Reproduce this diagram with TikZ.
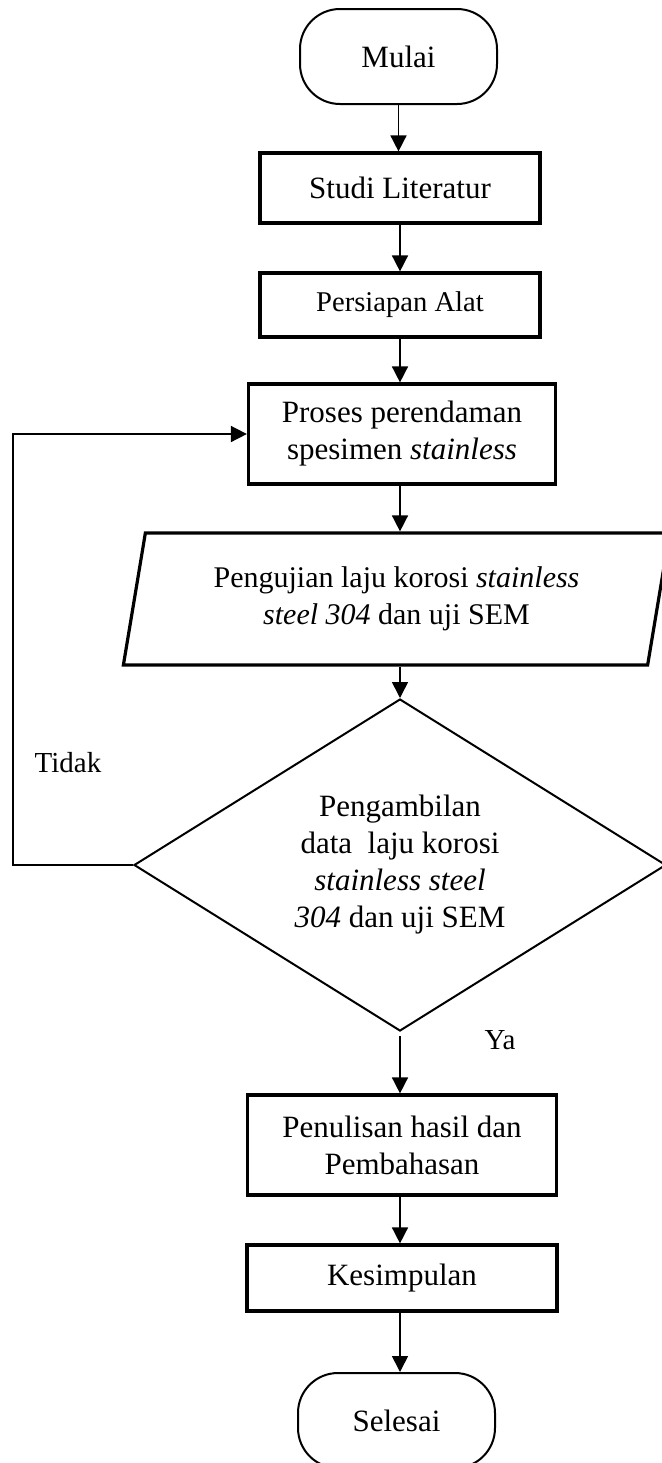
\documentclass[tikz,border=0pt]{standalone}
\usepackage{fontspec}
\setmainfont{Liberation Serif}
\usetikzlibrary{shapes.geometric, arrows.meta}

\begin{document}
\begin{tikzpicture}[x=0.5pt, y=-0.5pt, >={Triangle[length=8pt,width=8pt]},
  txt/.style={font=\fontsize{15.5}{18.5}\selectfont, align=center, inner sep=0pt},
  terminal/.style={txt, draw, line width=1pt, rounded corners=20pt, minimum width=98.5pt, minimum height=47.5pt},
  box/.style={txt, draw, line width=1.6pt},
  io/.style={txt, draw, line width=1.6pt, trapezium, trapezium left angle=76, trapezium right angle=104, trapezium stretches=true},
  decision/.style={txt, draw, line width=1pt, diamond, aspect=1.6},
  lbl/.style={font=\fontsize{14.5}{17}\selectfont, inner sep=0pt}]
\useasboundingbox (0,0) rectangle (661,1463);
\node (mulai) at (398.5,56.5) [terminal] {Mulai};
\node (studi) at (400,188) [box, minimum width=140pt, minimum height=35pt] {Studi Literatur};
\node (persiapan) at (400,305) [box, minimum width=140pt, minimum height=32pt, font=\fontsize{14.3}{17}\selectfont] {Persiapan Alat};
\node (proses) at (402,434) [box, minimum width=153.5pt, minimum height=50pt] {Proses perendaman\\spesimen \textit{stainless}};
\node (uji) at (396.5,599) [io, minimum width=273.5pt, minimum height=66pt, font=\fontsize{15}{18.5}\selectfont] {Pengujian laju korosi \textit{stainless}\\\textit{steel 304} dan uji SEM};
\node (cek) at (400,865) [decision, minimum width=266pt, minimum height=166pt] {Pengambilan\\data\ \ laju korosi\\\textit{stainless steel}\\\textit{304} dan uji SEM};
\node (penulisan) at (402,1145) [box, minimum width=154.5pt, minimum height=50pt] {Penulisan hasil dan\\Pembahasan};
\node (kesimpulan) at (402,1278) [box, minimum width=155pt, minimum height=33pt] {Kesimpulan};
\node (selesai) at (396.5,1420.5) [terminal] {Selesai};
\node (tidak) at (68,763) [lbl] {Tidak};
\node (ya) at (500,1040) [lbl] {Ya};
\draw[->, thick] (mulai) -- (mulai |- studi.north);
\draw[->, thick] (studi) -- (persiapan);
\draw[->, thick] (persiapan) -- (persiapan |- proses.north);
\draw[->, thick] (persiapan |- proses.south) -- (persiapan |- uji.north);
\draw[->, thick] (uji.south -| cek) -- (cek);
\draw[->, thick, shorten <=2pt] (cek) -- (cek |- penulisan.north);
\draw[->, thick] (cek |- penulisan.south) -- (cek |- kesimpulan.north);
\draw[->, thick] (cek |- kesimpulan.south) -- (cek |- selesai.north);
\draw[->, thick] (cek.west) -- ++(-120,0) |- (proses.west);
\end{tikzpicture}
\end{document}
